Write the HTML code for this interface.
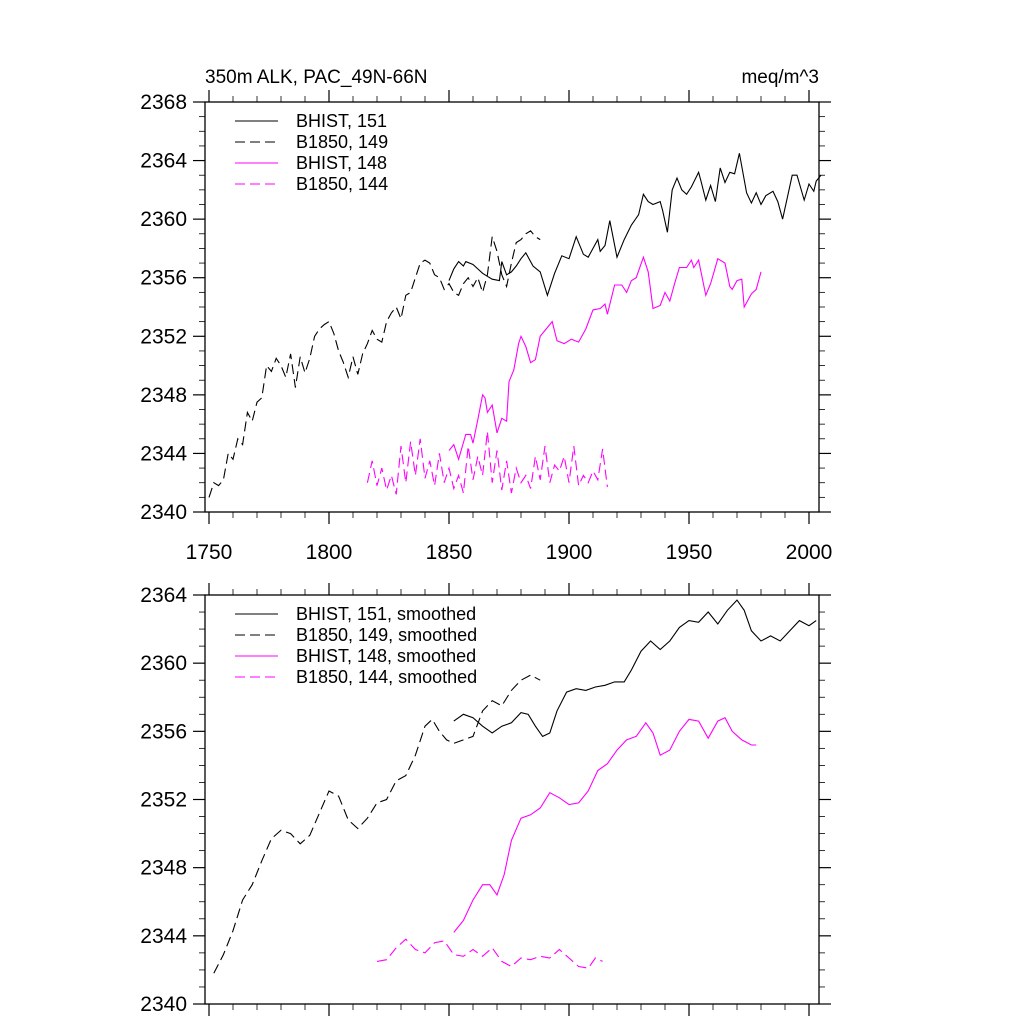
<!DOCTYPE html>
<html><head><meta charset="utf-8"><style>
body{margin:0;background:#fff}
svg{display:block;font-family:"Liberation Sans",sans-serif}
</style></head><body>
<svg id="chart" width="1024" height="1024" viewBox="0 0 1024 1024" xmlns="http://www.w3.org/2000/svg"></svg>
<script>
// ---- data: top panel (annual) ----
const dashBlackYears=[1750,1752,1754,1756,1758,1760,1762,1764,1766,1768,1770,1772,1774,1776,1778,1780,1782,1784,1786,1788,1790,1792,1794,1796,1798,1800,1802,1804,1806,1808,1810,1812,1814,1816,1818,1820,1822,1824,1826,1828,1830,1832,1834,1836,1838,1840,1842,1844,1846,1848,1850,1852,1854,1856,1858,1860,1862,1864,1866,1868,1870,1872,1874,1876,1878,1880,1882,1884,1886,1888];
const dashBlackVals=[2341,2342,2341.8,2342.2,2344,2343.6,2345,2344.6,2346.8,2346.2,2347.5,2347.8,2350,2349.6,2350.5,2350,2349.2,2350.8,2348.5,2350.6,2349.5,2350.5,2352,2352.5,2352.8,2353,2352.2,2351,2350.2,2349.2,2350.6,2349.4,2350.8,2351.5,2352.4,2351.8,2351.6,2353,2353.6,2354,2353.2,2354.8,2355,2356,2357,2357.2,2357,2356.2,2356,2355.2,2355.6,2355,2354.8,2355.6,2356,2355.4,2356,2355,2356.2,2358.8,2357.8,2356.2,2355.4,2357,2358.4,2358.6,2359,2359.2,2358.8,2358.6];
const solidBlackYears=[1850,1852,1854,1856,1857,1860,1862,1864,1866,1868,1871,1872,1874,1876,1878,1880,1882,1885,1888,1891,1894,1897,1900,1903,1906,1908,1910,1912,1913,1915,1917,1920,1923,1926,1929,1931,1933,1935,1938,1939,1941,1943,1945,1947,1949,1951,1954,1955,1957,1959,1961,1963,1965,1967,1969,1971,1974,1976,1978,1980,1982,1985,1987,1989,1991,1993,1995,1998,2000,2002,2003,2005];
const solidBlackVals=[2355.8,2356.6,2357.1,2356.8,2357.1,2356.9,2356.6,2356.3,2356.1,2355.9,2355.8,2357.1,2356.2,2356.4,2356.8,2357.3,2357.7,2356.8,2356.4,2354.8,2356.3,2357.5,2357.3,2358.8,2357.6,2357.4,2358,2358.6,2357.8,2358.2,2359.9,2357.4,2358.6,2359.6,2360.3,2361.7,2361.2,2361,2361.2,2360.6,2359.1,2362,2362.8,2362,2361.7,2362.2,2363.2,2362.6,2361.3,2362.3,2361.2,2363.5,2362.5,2363.2,2363.1,2364.5,2361.8,2361.1,2361.8,2361,2361.6,2361.9,2361.2,2360,2361.5,2363,2363,2361.3,2362.4,2361.9,2362.6,2363];
const solidMagYears=[1850,1852,1854,1857,1859,1860,1862,1864,1865,1866,1868,1870,1872,1874,1875,1877,1879,1880,1882,1884,1886,1888,1891,1893,1895,1898,1901,1904,1907,1910,1913,1915,1916,1919,1922,1924,1926,1928,1931,1933,1935,1938,1940,1942,1944,1946,1949,1951,1952,1954,1957,1959,1962,1965,1967,1968,1970,1972,1973,1976,1978,1980];
const solidMagVals=[2344.2,2344.6,2343.6,2345.3,2345.3,2344.7,2346.3,2348,2347.8,2346.8,2347.3,2345.4,2346.4,2346.2,2348.9,2349.7,2351.5,2352,2351.3,2350.2,2350.4,2352,2352.6,2353,2351.7,2351.5,2351.8,2351.6,2352.5,2353.8,2353.9,2354.2,2353.5,2355.5,2355.5,2355,2355.8,2356,2357.4,2356.4,2353.9,2354.1,2355,2354.4,2355.6,2356.7,2356.7,2357.2,2356.7,2357.2,2354.8,2355.6,2357.3,2357,2355.4,2355.2,2355.8,2355.9,2354,2354.9,2355.2,2356.4];
const dashMagStart=1816;
const dashMagVals=[2342,2343.5,2341.8,2343,2341.5,2342.5,2341.2,2344.5,2342,2344.8,2342.5,2345,2342.3,2343.5,2341.8,2344,2342,2343,2341.6,2342.5,2341.3,2344.5,2342.2,2343.8,2342.5,2345.5,2342,2344.2,2341.5,2343.5,2341.3,2343,2342,2342.5,2341.6,2343.8,2342.2,2344.5,2342,2343.2,2342.8,2343.8,2342,2344.5,2341.8,2342.5,2342,2342.8,2342.2,2344.3,2341.7];
// ---- data: bottom panel (smoothed) ----
const sDashBlackYears=[1752,1756,1760,1764,1768,1772,1776,1780,1784,1788,1792,1796,1800,1804,1808,1812,1816,1820,1824,1828,1832,1836,1840,1843,1846,1849,1852,1856,1860,1864,1868,1872,1876,1880,1884,1888];
const sDashBlackVals=[2341.8,2342.9,2344.3,2346.1,2347,2348.4,2349.7,2350.2,2350,2349.4,2349.9,2351.2,2352.5,2352.2,2350.8,2350.3,2350.9,2351.8,2352,2353.1,2353.4,2354.6,2356.3,2356.7,2356,2355.5,2355.3,2355.5,2355.7,2357.2,2357.8,2357.5,2358.4,2359,2359.3,2359];
const sSolidBlackYears=[1852,1856,1860,1864,1868,1872,1876,1880,1883,1886,1889,1892,1895,1899,1903,1907,1911,1915,1919,1923,1926,1930,1934,1938,1942,1946,1950,1954,1958,1962,1966,1970,1973,1976,1980,1984,1988,1992,1996,2000,2003];
const sSolidBlackVals=[2356.6,2357,2356.8,2356.3,2355.9,2356.3,2356.5,2357.1,2357,2356.3,2355.7,2355.9,2357.2,2358.3,2358.5,2358.4,2358.6,2358.7,2358.9,2358.9,2359.6,2360.7,2361.3,2360.8,2361.3,2362.1,2362.5,2362.4,2363,2362.3,2363.1,2363.7,2363.1,2361.9,2361.3,2361.6,2361.3,2361.9,2362.5,2362.2,2362.5];
const sSolidMagYears=[1852,1856,1860,1864,1867,1870,1873,1876,1880,1884,1888,1892,1896,1900,1904,1908,1912,1916,1920,1924,1928,1932,1935,1938,1942,1946,1950,1954,1958,1962,1965,1968,1972,1976,1978];
const sSolidMagVals=[2344.2,2344.9,2346.1,2347,2347,2346.4,2347.6,2349.6,2350.9,2351.1,2351.5,2352.4,2352.1,2351.7,2351.8,2352.5,2353.7,2354.1,2354.9,2355.5,2355.7,2356.5,2355.9,2354.6,2354.9,2356,2356.7,2356.6,2355.6,2356.6,2356.8,2356,2355.5,2355.2,2355.2];
const sDashMagYears=[1820,1824,1828,1832,1836,1840,1844,1848,1852,1856,1860,1864,1868,1872,1876,1880,1884,1888,1892,1896,1900,1904,1908,1911,1914];
const sDashMagVals=[2342.5,2342.6,2343.3,2343.8,2343.2,2343,2343.6,2343.7,2342.9,2342.8,2343.2,2342.8,2343.3,2342.5,2342.2,2342.7,2342.6,2342.8,2342.7,2343.2,2342.7,2342.2,2342.1,2342.7,2342.5];
const xTickLabels=["1750","1800","1850","1900","1950","2000"];
const topYTicks=["2340","2344","2348","2352","2356","2360","2364","2368"];
const botYTicks=["2340","2344","2348","2352","2356","2360","2364"];
const legendTop=["BHIST, 151","B1850, 149","BHIST, 148","B1850, 144"];
const legendBot=["BHIST, 151, smoothed","B1850, 149, smoothed","BHIST, 148, smoothed","B1850, 144, smoothed"];

const NS="http://www.w3.org/2000/svg";
const svg=document.getElementById('chart');
function mk(tag,attrs,parent){const e=document.createElementNS(NS,tag);for(const k in attrs)e.setAttribute(k,attrs[k]);(parent||svg).appendChild(e);return e;}
const L=205,R=819;
const xs=y=>209+(y-1750)*2.4;
const DASH='10 5';

function panel(name,top,bottom,ymin,ymax,yticks,showXLabels,series,legend){
  const g=mk('g',{});
  
  
  const ys=v=>bottom-(v-ymin)/(ymax-ymin)*(bottom-top);
  const fr=mk('rect',{x:L,y:top,width:R-L,height:bottom-top,fill:'none',stroke:'#000','stroke-width':1.3},g);
  
  
  for(let v=ymin;v<=ymax;v++){
    const maj=(v-ymin)%4===0, len=maj?12:6, y=ys(v);
    mk('line',{x1:L-len,x2:L,y1:y,y2:y,stroke:'#000','stroke-width':maj?1.2:0.8},g);
    mk('line',{x1:R,x2:R+len,y1:y,y2:y,stroke:'#000','stroke-width':maj?1.2:0.8},g);
  }
  yticks.forEach(t=>{
    const tx=mk('text',{x:L-18,y:ys(+t)+7,'text-anchor':'end','font-size':21},g);
    tx.textContent=t;
    
    
  });
  for(let yr=1750;yr<=2000;yr+=10){
    const maj=yr%50===0,len=maj?12:6,x=xs(yr);
    mk('line',{x1:x,x2:x,y1:top-len,y2:top,stroke:'#000','stroke-width':maj?1.2:0.8},g);
    mk('line',{x1:x,x2:x,y1:bottom,y2:bottom+len,stroke:'#000','stroke-width':maj?1.2:0.8},g);
  }
  if(showXLabels) xTickLabels.forEach(t=>{
    const tx=mk('text',{x:xs(+t),y:bottom+47,'text-anchor':'middle','font-size':21},g);
    tx.textContent=t;
    
    
  });
  series.forEach(s=>{
    const d=s.years.map((yr,i)=>(i?'L':'M')+xs(yr).toFixed(1)+' '+ys(s.vals[i]).toFixed(1)).join(' ');
    const p=mk('path',{d:d,fill:'none',stroke:s.color,'stroke-width':1.1,'stroke-dasharray':s.dash?DASH:'none'},g);
    
    
  });
  legend.forEach((t,i)=>{
    const y=top+19+i*21, s=series[i];
    const ln=mk('line',{x1:235,x2:278,y1:y,y2:y,stroke:s.color,'stroke-width':1.1,'stroke-dasharray':s.dash?DASH:'none'},g);
    
    
    const tx=mk('text',{x:296,y:y+6,'font-size':18},g);
    tx.textContent=t;
    
    
  });
}
const seq=(s,n,st)=>Array.from({length:n},(_,i)=>s+i*st);
panel('top-panel',102,512,2340,2368,topYTicks,true,[
  {name:'bhist-151',years:solidBlackYears,vals:solidBlackVals,color:'#000',dash:false},
  {name:'b1850-149',years:dashBlackYears,vals:dashBlackVals,color:'#000',dash:true},
  {name:'bhist-148',years:solidMagYears,vals:solidMagVals,color:'#ff00ff',dash:false},
  {name:'b1850-144',years:seq(dashMagStart,dashMagVals.length,2),vals:dashMagVals,color:'#ff00ff',dash:true}
],legendTop);
panel('bottom-panel',595,1004,2340,2364,botYTicks,false,[
  {name:'bhist-151-smoothed',years:sSolidBlackYears,vals:sSolidBlackVals,color:'#000',dash:false},
  {name:'b1850-149-smoothed',years:sDashBlackYears,vals:sDashBlackVals,color:'#000',dash:true},
  {name:'bhist-148-smoothed',years:sSolidMagYears,vals:sSolidMagVals,color:'#ff00ff',dash:false},
  {name:'b1850-144-smoothed',years:sDashMagYears,vals:sDashMagVals,color:'#ff00ff',dash:true}
],legendBot);
const t1=mk('text',{x:205,y:83,'font-size':19});
t1.textContent='350m ALK, PAC_49N-66N';


const t2=mk('text',{x:819,y:83,'font-size':19,'text-anchor':'end'});
t2.textContent='meq/m^3';


</script>
</body></html>
